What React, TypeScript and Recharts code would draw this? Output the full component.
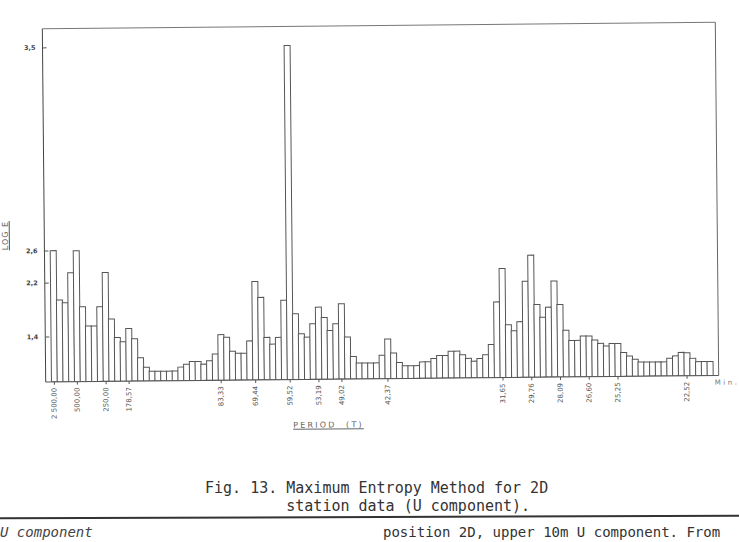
import React from 'react';
import { BarChart, Bar, XAxis, YAxis } from 'recharts';

// spectral energy per harmonic k (period = 2500 / k)
const ENERGY: number[] = [
  13.0, 8.1, 7.83, 10.8, 12.97, 7.41, 5.5, 5.5, 7.4, 10.78,
  6.18, 4.33, 3.9, 5.22, 4.2, 2.31, 1.35, 0.95, 0.95, 0.95,
  0.95, 0.95, 1.34, 1.61, 1.88, 1.88, 1.61, 1.94, 2.6, 4.52,
  4.25, 2.86, 2.66, 2.66, 3.87, 9.75, 8.17, 4.2, 3.53, 4.19,
  7.86, 33.1, 6.51, 4.53, 4.19, 5.51, 7.15, 6.12, 4.83, 5.49,
  7.46, 4.16, 2.23, 1.57, 1.57, 1.57, 1.57, 2.32, 3.92, 2.53,
  1.59, 1.26, 1.26, 1.26, 1.63, 1.63, 1.95, 2.24, 2.24, 2.66,
  2.66, 2.29, 1.93, 1.65, 1.91, 2.27, 3.28, 7.5, 10.8, 5.23,
  4.63, 5.52, 9.52, 12.1, 7.2, 5.93, 6.93, 9.51, 7.18, 4.63,
  3.61, 3.61, 4.03, 4.03, 3.63, 3.29, 3.03, 3.26, 3.26, 2.36,
  2.02, 1.69, 1.4, 1.4, 1.4, 1.4, 1.4, 1.76, 1.98, 2.32,
  2.28, 1.72, 1.39, 1.39, 1.39,
];

const TICK_HARMONICS = [1, 5, 10, 14, 30, 36, 42, 47, 51, 59, 79, 84, 89, 94, 99, 111];
const TICK_PERIODS = [
  '2 500,00', '500,00', '250,00', '178,57', '83,33', '69,44', '59,52', '53,19',
  '49,02', '42,37', '31,65', '29,76', '28,09', '26,60', '25,25', '22,52',
];

const Y_TICK_VALUES = [4.44, 9.79, 12.97, 33.1];
const Y_TICK_LABELS = ['1,4', '2,2', '2,6', '3,5'];

const LINE = '#555';
const FONT = '"DejaVu Sans", sans-serif';
const MONO = '"DejaVu Sans Mono", monospace';

// empty slot at each end, like the original plot frame
const data = [
  { k: 0, e: null as number | null },
  ...ENERGY.map((e, i) => ({ k: i + 1, e })),
  { k: ENERGY.length + 1, e: null as number | null },
];

function PeriodTick({ x, y, payload }: any) {
  const idx = TICK_HARMONICS.indexOf(payload.value);
  if (idx < 0) return <g />;
  const ty = y + 6;
  return (
    <g>
      <line x1={x} y1={y} x2={x} y2={y + 3} stroke={LINE} />
      <text
        x={x}
        y={ty}
        transform={`rotate(-90 ${x} ${ty})`}
        textAnchor="end"
        dominantBaseline="central"
        fontSize={7}
        fontFamily={FONT}
        fill="#555"
      >
        {TICK_PERIODS[idx]}
      </text>
    </g>
  );
}

function LogTick({ x, y, payload }: any) {
  const idx = Y_TICK_VALUES.indexOf(payload.value);
  if (idx < 0) return <g />;
  return (
    <g>
      <line x1={x} y1={y} x2={x + 4} y2={y} stroke={LINE} />
      <text
        x={x - 7}
        y={y}
        textAnchor="end"
        dominantBaseline="central"
        fontSize={6.5}
        fontWeight="bold"
        fontFamily={FONT}
        fill="#444"
      >
        {Y_TICK_LABELS[idx]}
      </text>
    </g>
  );
}

export default function App() {
  return (
    <div style={{ position: 'absolute', left: 0, top: 0, width: 739, height: 542, overflow: 'hidden', background: '#fff' }}>
      <div style={{ position: 'absolute', left: 0, top: 0, width: 739, height: 542, transform: 'rotate(-0.55deg)', transformOrigin: '380px 202px' }}>
        <BarChart
          width={739}
          height={542}
          data={data}
          margin={{ top: 24.5, right: 21, left: 0, bottom: 123.3 }}
          barCategoryGap={0}
          barGap={0}
        >
          <XAxis
            dataKey="k"
            interval={0}
            height={40}
            tickSize={0}
            tickMargin={0}
            tickLine={false}
            tick={<PeriodTick />}
            axisLine={{ stroke: LINE }}
          />
          <XAxis xAxisId="top" orientation="top" dataKey="k" height={1} tick={false} tickLine={false} axisLine={{ stroke: '#777' }} />
          <YAxis
            type="number"
            domain={[0, 35]}
            ticks={Y_TICK_VALUES}
            interval={0}
            width={44}
            tickSize={0}
            tickMargin={0}
            tickLine={false}
            tick={<LogTick />}
            axisLine={{ stroke: '#444' }}
            allowDataOverflow
          />
          <YAxis yAxisId="right" orientation="right" width={1} tick={false} tickLine={false} axisLine={{ stroke: '#666' }} />
          <Bar dataKey="e" fill="#fff" stroke="#555" strokeWidth={1} isAnimationActive={false} />
        </BarChart>

        <div style={{ position: 'absolute', left: 5, top: 232, transform: 'translate(-50%, -50%) rotate(-90deg)', fontFamily: FONT, fontSize: 8, letterSpacing: 1, color: '#555', textDecoration: 'underline', whiteSpace: 'nowrap' }}>
          LOG E
        </div>
        <div style={{ position: 'absolute', left: 291, top: 420, fontFamily: FONT, fontSize: 8, letterSpacing: 2.2, color: '#666', textDecoration: 'underline', whiteSpace: 'pre' }}>
          {'PERIOD  (T)'}
        </div>
        <div style={{ position: 'absolute', left: 713, top: 382, fontFamily: FONT, fontSize: 7, letterSpacing: 2.5, color: '#777', whiteSpace: 'nowrap' }}>
          Min.
        </div>
      </div>

      <div style={{ position: 'absolute', left: 205, top: 479, fontFamily: MONO, fontSize: 15, lineHeight: '18px', color: '#333', whiteSpace: 'pre' }}>
        {'Fig. 13. Maximum Entropy Method for 2D\n         station data (U component).'}
      </div>
      <div style={{ position: 'absolute', left: 0, top: 515.5, width: 739, height: 2, background: '#333', transform: 'rotate(-0.2deg)' }} />
      <div style={{ position: 'absolute', left: 0, top: 524, fontFamily: MONO, fontSize: 14, fontStyle: 'italic', lineHeight: '16px', color: '#444', whiteSpace: 'pre' }}>
        U component
      </div>
      <div style={{ position: 'absolute', left: 383, top: 524, fontFamily: MONO, fontSize: 14, lineHeight: '16px', color: '#333', whiteSpace: 'pre' }}>
        position 2D, upper 10m U component. From
      </div>
    </div>
  );
}
